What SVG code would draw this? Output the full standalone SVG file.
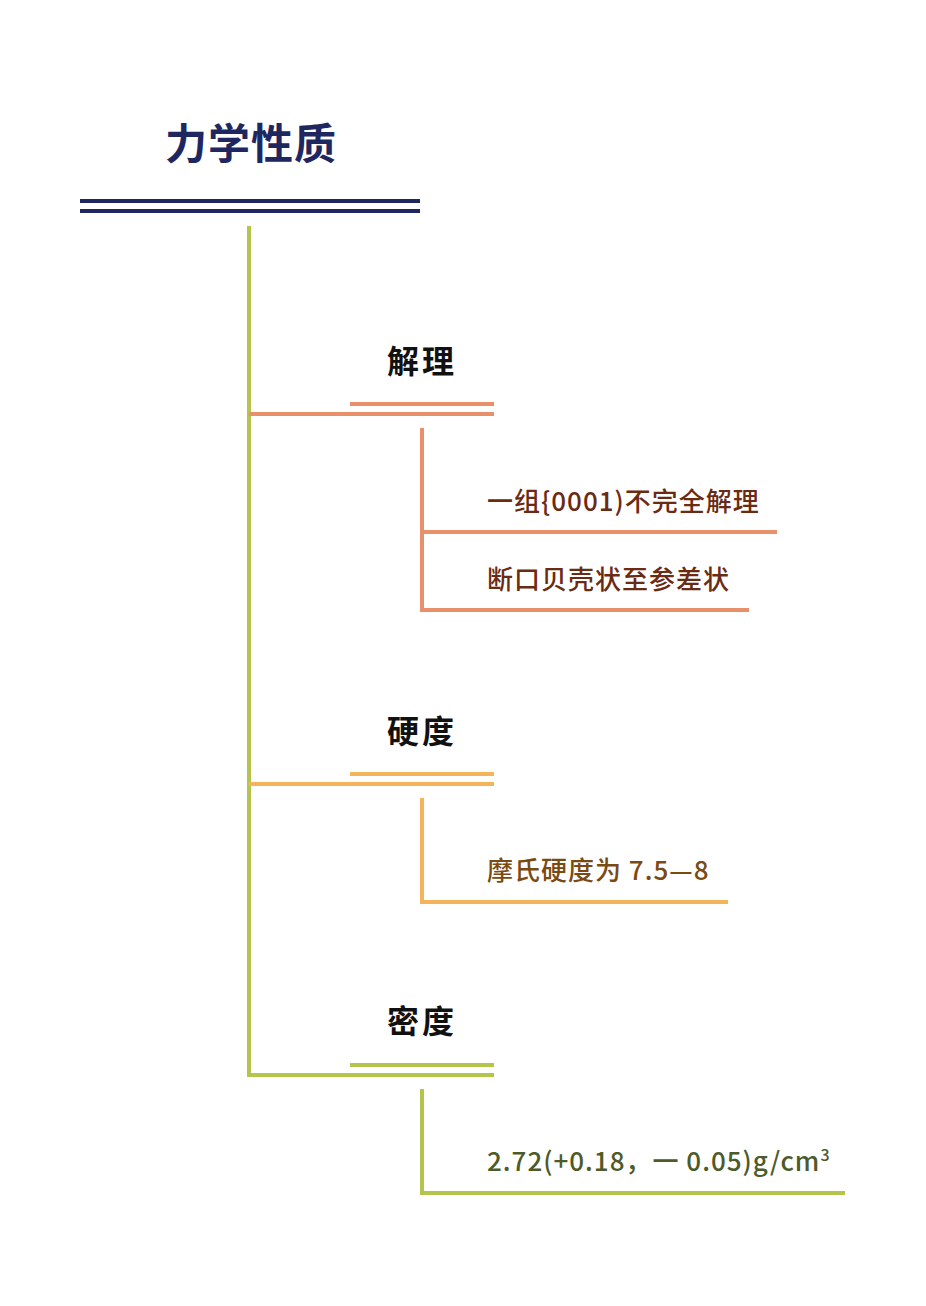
<svg xmlns="http://www.w3.org/2000/svg" width="926" height="1306" viewBox="0 0 926 1306">
<style>
text{font-family:"Noto Sans CJK SC","Noto Sans",sans-serif;font-weight:bold}
.h{font-size:32px;fill:#111;letter-spacing:3px}
.c{font-size:26px;font-weight:500;letter-spacing:1px}
line{stroke-width:4}
.s{stroke:#e8906a}.o{stroke:#f5b35a}.g{stroke:#b5c44a}.n{stroke:#1f2760}
</style>
<rect width="926" height="1306" fill="#fff"/>
<g id="title"><text x="165" y="159" font-size="42" letter-spacing="1" fill="#1f2760">力学性质</text>
<line class="n" x1="80" y1="201" x2="420" y2="201"/><line class="n" x1="80" y1="211" x2="420" y2="211"/></g>
<g id="connectors">
<line class="g" x1="249" y1="226" x2="249" y2="1077"/>
<line class="s" x1="249" y1="414" x2="494" y2="414"/><line class="s" x1="350" y1="404" x2="494" y2="404"/>
<line class="s" x1="422" y1="428" x2="422" y2="612"/><line class="s" x1="422" y1="532" x2="777" y2="532"/><line class="s" x1="420" y1="610" x2="749" y2="610"/>
<line class="o" x1="249" y1="784" x2="494" y2="784"/><line class="o" x1="350" y1="774" x2="494" y2="774"/>
<line class="o" x1="422" y1="798" x2="422" y2="904"/><line class="o" x1="420" y1="902" x2="728" y2="902"/>
<line class="g" x1="249" y1="1075" x2="494" y2="1075"/><line class="g" x1="350" y1="1065" x2="494" y2="1065"/>
<line class="g" x1="422" y1="1089" x2="422" y2="1195"/><line class="g" x1="420" y1="1193" x2="845" y2="1193"/>
</g>
<g id="n1"><text class="h" x="387" y="373">解理</text></g>
<g id="n1a"><text class="c" x="487" y="511" fill="#6b2a12">一组{0001)不完全解理</text></g>
<g id="n1b"><text class="c" x="487" y="589" fill="#6b2a12">断口贝壳状至参差状</text></g>
<g id="n2"><text class="h" x="387" y="743">硬度</text></g>
<g id="n2a"><text class="c" x="487" y="880" fill="#7a4a12">摩氏硬度为 7.5—8</text></g>
<g id="n3"><text class="h" x="387" y="1033">密度</text></g>
<g id="n3a"><text class="c" x="487" y="1171" fill="#4d5a2a">2.72(+0.18，一 0.05)g/cm<tspan dy="-10" font-size="16">3</tspan></text></g>
</svg>
